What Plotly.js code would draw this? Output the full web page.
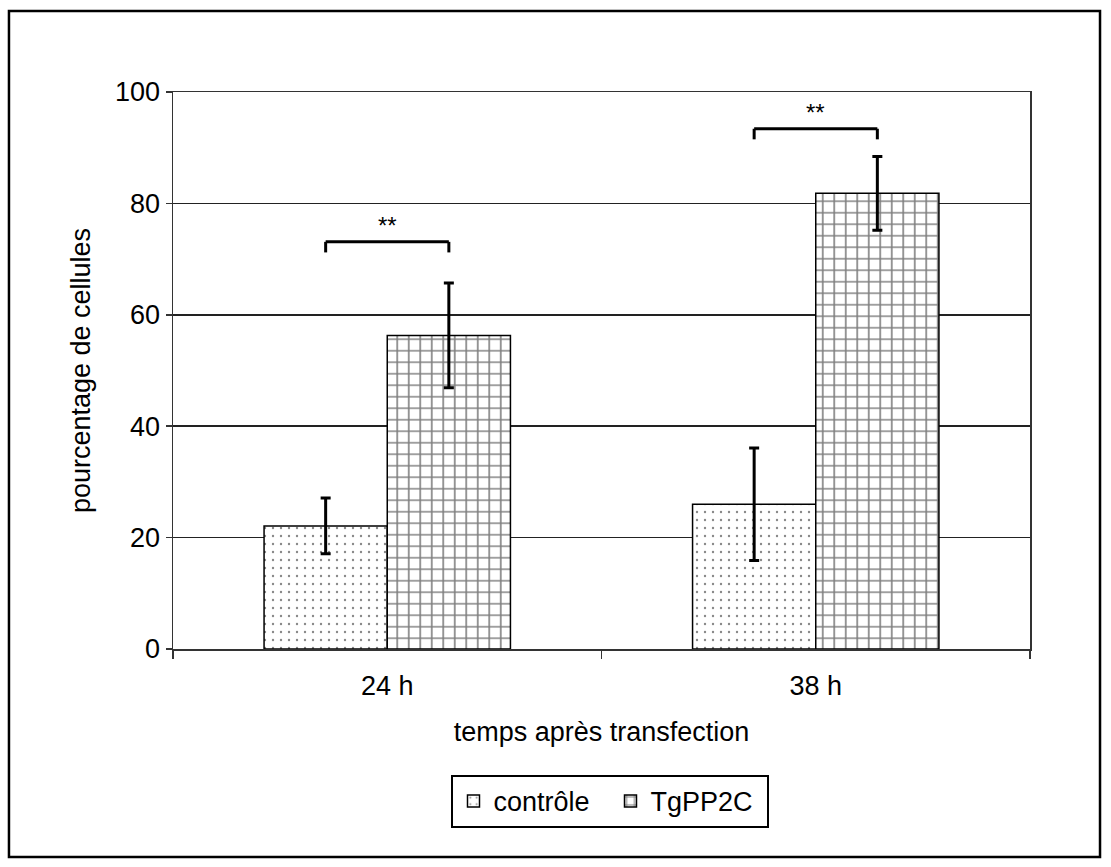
<!DOCTYPE html>
<html>
<head>
<meta charset="utf-8">
<script src="https://cdn.plot.ly/plotly-3.0.1.min.js"></script>
<style>
  html, body { margin: 0; padding: 0; background: #fff; }
  #chart { width: 1111px; height: 867px; }
</style>
</head>
<body>
<div id="chart"></div>
<script>
// ---- data ----
const categories = ['24 h', '38 h'];
const controle = [22.1, 26.0];
const controleErr = [5.0, 10.1];
const tgpp2c = [56.3, 81.8];
const tgpp2cErr = [9.4, 6.6];
const seriesNames = ['contrôle', 'TgPP2C'];
const signifY = [73.1, 93.4];
const signifLabels = ['**', '**'];
const yTicks = [0, 20, 40, 60, 80, 100];

// ---- style ----
const FONT = 'Arial, "Liberation Sans", sans-serif';
const FS = 27;
const bargap = 0.425;
const barW = (1 - bargap) / 2;

const traces = [
  {
    type: 'bar', name: seriesNames[0], x: categories, y: controle,
    marker: {
      color: '#ffffff',
      line: { color: '#000', width: 1.5 },
      pattern: { shape: '.', size: 8, solidity: 0.07, fgcolor: '#111', bgcolor: '#ffffff', fillmode: 'overlay' }
    },
    error_y: { type: 'data', array: controleErr, visible: true, color: '#000', thickness: 3, width: 5 }
  },
  {
    type: 'bar', name: seriesNames[1], x: categories, y: tgpp2c,
    marker: {
      color: '#ffffff',
      line: { color: '#000', width: 1.5 },
      pattern: { shape: '+', size: 11.5, solidity: 0.26, fgcolor: '#000', bgcolor: '#ffffff', fillmode: 'overlay' }
    },
    error_y: { type: 'data', array: tgpp2cErr, visible: true, color: '#000', thickness: 3, width: 5 }
  }
];

const shapes = [];
const annotations = [];
const drop = 1.9;
categories.forEach((c, i) => {
  const x0 = i - barW / 2, x1 = i + barW / 2, y = signifY[i];
  const ln = { color: '#000', width: 3 };
  shapes.push({ type: 'line', xref: 'x', yref: 'y', x0: x0, x1: x1, y0: y, y1: y, line: ln });
  shapes.push({ type: 'line', xref: 'x', yref: 'y', x0: x0, x1: x0, y0: y, y1: y - drop, line: ln });
  shapes.push({ type: 'line', xref: 'x', yref: 'y', x0: x1, x1: x1, y0: y, y1: y - drop, line: ln });
  annotations.push({
    xref: 'x', yref: 'y', x: i, y: y, text: signifLabels[i], showarrow: false,
    yanchor: 'bottom', yshift: 1, font: { family: FONT, size: 24, color: '#000' }
  });
});
// outer frame
shapes.push({
  type: 'rect', xref: 'paper', yref: 'paper',
  x0: -0.1914, x1: 1.0817, y0: -0.3734, y1: 1.1454,
  line: { color: '#000', width: 2.5 }, layer: 'below'
});

const layout = {
  width: 1111, height: 867,
  margin: { l: 173, r: 81, t: 92, b: 218 },
  paper_bgcolor: '#fff', plot_bgcolor: '#fff',
  font: { family: FONT, size: FS, color: '#000' },
  barmode: 'group', bargap: bargap, bargroupgap: 0,
  showlegend: true,
  legend: {
    orientation: 'h', x: 0.5105, xanchor: 'center', y: -0.226, yanchor: 'top',
    bordercolor: '#000', borderwidth: 2, font: { family: FONT, size: FS, color: '#000' },
    traceorder: 'normal', itemwidth: 30, entrywidth: 112
  },
  xaxis: {
    type: 'category', range: [-0.5, 1.5],
    showline: true, linecolor: '#333', linewidth: 1.5, mirror: true,
    ticks: 'outside', tickson: 'boundaries', ticklen: 8, tickwidth: 1.5, tickcolor: '#333',
    ticklabelstandoff: 12,
    showgrid: false, zeroline: false,
    tickfont: { family: FONT, size: FS, color: '#000' },
    title: { text: 'temps après transfection', font: { family: FONT, size: FS, color: '#000' }, standoff: 22 }
  },
  yaxis: {
    range: [0, 100], tickvals: yTicks,
    showline: true, linecolor: '#333', linewidth: 1.5, mirror: true,
    ticks: 'outside', ticklen: 6, tickwidth: 1.5, tickcolor: '#333',
    showgrid: true, gridcolor: '#222', gridwidth: 1.5, zeroline: false,
    tickfont: { family: FONT, size: FS, color: '#000' },
    title: { text: 'pourcentage de cellules', font: { family: FONT, size: FS, color: '#000' }, standoff: 16 }
  },
  shapes: shapes,
  annotations: annotations
};

Plotly.newPlot('chart', traces, layout, { displayModeBar: false, staticPlot: true });
</script>
</body>
</html>
